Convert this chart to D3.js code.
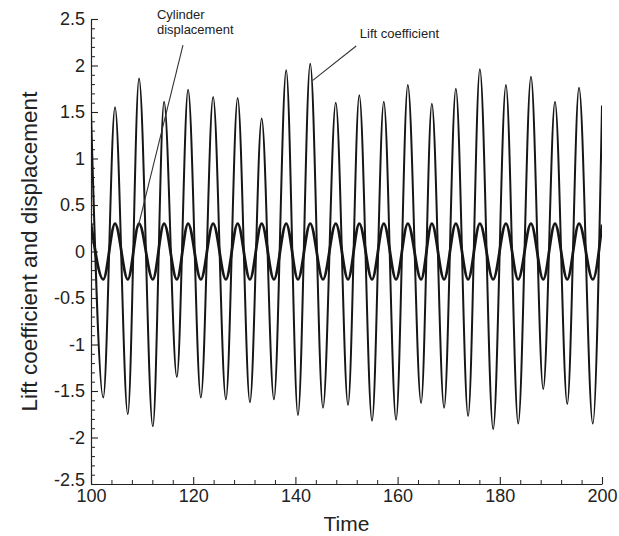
<!DOCTYPE html>
<html>
<head>
<meta charset="utf-8">
<script src="https://cdn.jsdelivr.net/npm/d3@7"></script>
<style>
  html, body { margin: 0; padding: 0; background: #fff; }
  svg { display: block; font-family: "Liberation Sans", Arial, sans-serif; }
</style>
</head>
<body>
<svg id="chart" width="619" height="536"></svg>
<script>
// ---- data ----
// times of successive extrema (peak / trough), plus the start and end of the record
const extremaTime = [100, 102.4, 104.7, 107.2, 109.4, 112.1, 114.3, 116.8, 119.0, 121.5,
  123.9, 126.4, 128.7, 131.1, 133.4, 135.8, 138.2, 140.5, 142.9, 145.4,
  147.9, 150.3, 152.5, 155.0, 157.3, 159.7, 162.0, 164.6, 166.7, 169.1,
  171.4, 173.8, 176.1, 178.7, 181.2, 183.6, 186.1, 188.5, 190.8, 193.2,
  195.5, 198.2, 200];
const liftCoefficient = [1.50, -1.57, 1.55, -1.75, 1.86, -1.88, 1.61, -1.35, 1.74, -1.57,
  1.66, -1.59, 1.65, -1.62, 1.43, -1.59, 1.95, -1.76, 2.02, -1.68,
  1.60, -1.65, 1.68, -1.82, 1.61, -1.81, 1.79, -1.63, 1.59, -1.68,
  1.75, -1.77, 1.96, -1.91, 1.79, -1.85, 1.88, -1.48, 1.61, -1.64,
  1.76, -1.85, 1.57];
const cylinderDisplacement = [0.30, -0.30, 0.30, -0.30, 0.30, -0.30, 0.30, -0.30, 0.30, -0.30,
  0.30, -0.30, 0.30, -0.30, 0.30, -0.30, 0.30, -0.30, 0.30, -0.30,
  0.30, -0.30, 0.30, -0.30, 0.30, -0.30, 0.30, -0.30, 0.30, -0.30,
  0.30, -0.30, 0.30, -0.30, 0.30, -0.30, 0.30, -0.30, 0.30, -0.30,
  0.30, -0.30, 0.29];
const xTicks = [100, 120, 140, 160, 180, 200];
const yTicks = [-2.5, -2, -1.5, -1, -0.5, 0, 0.5, 1, 1.5, 2, 2.5];
const xTickLabels = ["100", "120", "140", "160", "180", "200"];
const yTickLabels = ["-2.5", "-2", "-1.5", "-1", "-0.5", "0", "0.5", "1", "1.5", "2", "2.5"];
const xTitle = "Time";
const yTitle = "Lift coefficient and displacement";
// annotations: label text, label anchor (data units), leader line (data units)
const annotations = [
  { lines: ["Cylinder", "displacement"], at: [112.9, 2.50], from: [118.0, 2.22], to: [109.2, 0.26] },
  { lines: ["Lift coefficient"], at: [152.6, 2.30], from: [151.9, 2.21], to: [143.4, 1.84] }
];

// ---- layout ----
const svg = d3.select("#chart");
const margin = { left: 91, right: 17, top: 19, bottom: 52 };
const W = 619, H = 536;
const x = d3.scaleLinear().domain([100, 200]).range([margin.left, W - margin.right]);
const y = d3.scaleLinear().domain([-2.5, 2.5]).range([H - margin.bottom, margin.top]);

const ink = "#222";

svg.append("clipPath").attr("id", "clip").append("rect")
  .attr("x", margin.left).attr("y", margin.top)
  .attr("width", x.range()[1] - margin.left).attr("height", y.range()[0] - margin.top);

// minor ticks
const xMinor = d3.range(100, 200.001, 4).filter(v => !xTicks.includes(v));
const yMinor = d3.range(-25, 26, 1).map(v => v / 10).filter(v => !yTicks.some(t => Math.abs(t - v) < 1e-9));

svg.append("g").attr("transform", `translate(0,${y(-2.5)})`)
  .call(d3.axisBottom(x).tickValues(xMinor).tickFormat("").tickSizeInner(-4).tickSizeOuter(0))
  .call(g => g.select(".domain").remove())
  .call(g => g.selectAll("line").attr("stroke", ink));
svg.append("g").attr("transform", `translate(${x(100)},0)`)
  .call(d3.axisLeft(y).tickValues(yMinor).tickFormat("").tickSizeInner(-4).tickSizeOuter(0))
  .call(g => g.select(".domain").remove())
  .call(g => g.selectAll("line").attr("stroke", ink));

// major axes
const gx = svg.append("g").attr("transform", `translate(0,${y(-2.5)})`)
  .call(d3.axisBottom(x).tickValues(xTicks).tickFormat((d, i) => xTickLabels[i])
    .tickSizeInner(-7).tickSizeOuter(0).tickPadding(5));
const gy = svg.append("g").attr("transform", `translate(${x(100)},0)`)
  .call(d3.axisLeft(y).tickValues(yTicks).tickFormat((d, i) => yTickLabels[i])
    .tickSizeInner(-7).tickSizeOuter(0).tickPadding(6));
[gx, gy].forEach(g => {
  g.select(".domain").attr("stroke", ink).attr("stroke-width", 1.2);
  g.selectAll(".tick line").attr("stroke", ink).attr("stroke-width", 1.1);
  g.selectAll(".tick text").attr("fill", "#222").style("font-size", "18px")
    .style("font-family", "'Liberation Sans', Arial, sans-serif");
});
// nudge the lowest y label up slightly, as in the reference, so it clears "100"
gy.selectAll(".tick text").filter(d => d === -2.5).attr("dy", "0.1em");

// series
const liftData = extremaTime.map((t, i) => [t, liftCoefficient[i]]);
const dispData = extremaTime.map((t, i) => [t, cylinderDisplacement[i]]);
const line = d3.line().x(d => x(d[0])).y(d => y(d[1])).curve(d3.curveMonotoneX);

const plot = svg.append("g").attr("clip-path", "url(#clip)");
plot.append("path").datum(dispData).attr("d", line)
  .attr("fill", "none").attr("stroke", "#161616").attr("stroke-width", 2.7);
plot.append("path").datum(liftData).attr("d", line)
  .attr("fill", "none").attr("stroke", "#161616").attr("stroke-width", 2)
  .attr("stroke-linejoin", "round");

// annotations
annotations.forEach(a => {
  svg.append("line")
    .attr("x1", x(a.from[0])).attr("y1", y(a.from[1]))
    .attr("x2", x(a.to[0])).attr("y2", y(a.to[1]))
    .attr("stroke", "#333").attr("stroke-width", 1.1);
  a.lines.forEach((s, i) => {
    svg.append("text").attr("x", x(a.at[0])).attr("y", y(a.at[1]) + i * 14.5)
      .attr("fill", "#222").style("font-size", "13px").text(s);
  });
});

// titles
svg.append("text").attr("x", (x(100) + x(200)) / 2).attr("y", 531)
  .attr("text-anchor", "middle").attr("fill", "#222").style("font-size", "21px").text(xTitle);
svg.append("text").attr("transform", `translate(37,${(y(-2.5) + y(2.5)) / 2}) rotate(-90)`)
  .attr("text-anchor", "middle").attr("fill", "#222").style("font-size", "22.5px").text(yTitle);
</script>
</body>
</html>
